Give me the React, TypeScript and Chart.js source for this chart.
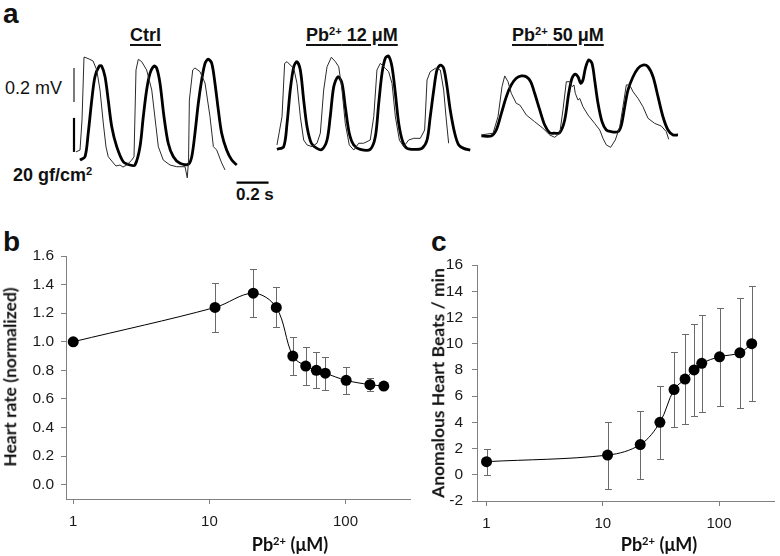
import React, { useEffect, useRef } from "react";
import { Chart, registerables } from "chart.js";

Chart.register(...registerables);

// ---------- Panel b / c data ----------
const leadDose = [1, 11, 21, 31, 41, 51, 61, 71, 101, 151, 191]; // Pb2+ (µM)
const heartRate = [1.0, 1.24, 1.34, 1.24, 0.9, 0.83, 0.8, 0.78, 0.73, 0.7, 0.69];
const heartRateErr = [0, 0.17, 0.17, 0.14, 0.135, 0.13, 0.125, 0.115, 0.095, 0.047, 0];
const anomalousBeats = [1.0, 1.5, 2.3, 4.0, 6.5, 7.3, 8.0, 8.5, 9.0, 9.3, 10.0];
const anomalousErr = [1.0, 2.55, 2.6, 2.8, 2.87, 3.4, 3.5, 3.7, 3.75, 4.2, 4.4];
const doseTicks = [1, 10, 100];
const heartTicks = [0, 0.2, 0.4, 0.6, 0.8, 1.0, 1.2, 1.4, 1.6];
const beatTicks = [-2, 0, 2, 4, 6, 8, 10, 12, 14, 16];

// ---------- Panel a traces (time in s, ECG in mV, force in gf/cm²) ----------
const ctrlEcgT = [0.0375,0.0625,0.075,0.0875,0.106,0.125,0.144,0.167,0.1875,0.208,0.225,0.239,0.271,0.2875,0.3125,0.331,0.354,0.386,0.4,0.4125,0.427,0.448,0.479,0.511,0.5375,0.552,0.583,0.625,0.667,0.719,0.733,0.741,0.746,0.767,0.781,0.8125,0.844,0.875,0.896,0.917,0.948,0.969];
const ctrlEcgV = [0.224,0.235,0.412,0.782,0.776,0.768,0.759,0.706,0.588,0.394,0.253,0.196,0.159,0.141,0.147,0.135,0.147,0.176,0.196,0.706,0.769,0.755,0.706,0.588,0.372,0.255,0.176,0.147,0.137,0.137,0.071,0.176,0.529,0.706,0.718,0.696,0.629,0.431,0.255,0.235,0.159,0.118];
const ctrlForceT = [0.0625,0.094,0.114,0.136,0.156,0.183,0.198,0.219,0.239,0.261,0.292,0.333,0.375,0.406,0.4375,0.458,0.479,0.5,0.525,0.542,0.5625,0.5875,0.614,0.646,0.6875,0.739,0.761,0.781,0.802,0.823,0.844,0.864,0.886,0.906,0.927,0.948,0.979,1.011,1.042];
const ctrlForce = [17.6,19.6,33.5,52.9,66.6,72.9,72.9,66.6,52.9,37.2,25.5,16.6,14.7,14.7,25.5,43.1,58.8,68.6,72.9,71.6,62.8,43.1,27.5,19.6,15.7,15.1,19.6,33.4,51.0,64.7,74.5,76.9,74.5,62.8,47.1,33.4,23.5,17.6,14.7];

const pb12EcgT = [0.031,0.0625,0.079,0.094,0.114,0.136,0.156,0.177,0.198,0.219,0.25,0.281,0.302,0.323,0.344,0.371,0.396,0.417,0.4375,0.458,0.483,0.511,0.542,0.573,0.614,0.636,0.656,0.677,0.708,0.729,0.75,0.771,0.796,0.823,0.854,0.886,0.927,0.954,0.969,0.989,1.021,1.052,1.073,1.0875,1.104];
const pb12EcgV = [0.265,0.431,0.745,0.755,0.735,0.716,0.628,0.431,0.294,0.265,0.255,0.275,0.334,0.588,0.725,0.781,0.755,0.725,0.588,0.392,0.265,0.235,0.275,0.275,0.294,0.431,0.706,0.745,0.716,0.696,0.628,0.431,0.294,0.255,0.294,0.304,0.304,0.353,0.647,0.696,0.716,0.706,0.588,0.431,0.275];
const pb12ForceT = [0.031,0.073,0.094,0.114,0.136,0.156,0.177,0.198,0.219,0.246,0.281,0.3125,0.344,0.364,0.386,0.4125,0.4375,0.458,0.483,0.511,0.552,0.614,0.646,0.667,0.6875,0.708,0.729,0.75,0.771,0.792,0.817,0.844,0.896,0.9375,0.969,0.989,1.011,1.031,1.052,1.073,1.094,1.114,1.142,1.167,1.198,1.239];
const pb12Force = [23.9,25.5,39.2,58.8,72.5,75.5,70.6,52.9,37.2,27.5,24.5,23.9,29.4,43.1,60.8,66.6,62.8,49.0,33.4,26.5,23.9,23.9,31.4,51.0,68.6,77.5,78.8,72.5,56.9,39.2,28.4,24.5,23.9,24.5,29.4,43.1,58.8,70.6,73.5,71.6,60.8,47.1,33.4,26.5,24.5,23.5];

const pb50EcgT = [0.021,0.094,0.125,0.15,0.167,0.1875,0.208,0.239,0.261,0.275,0.302,0.354,0.406,0.448,0.479,0.511,0.531,0.552,0.573,0.589,0.6,0.608,0.625,0.636,0.656,0.6875,0.729,0.761,0.781,0.802,0.829,0.858,0.886,0.906,0.927,0.948,0.969,1.0,1.031,1.0625,1.104,1.146,1.177,1.192];
const pb50EcgV = [0.324,0.334,0.431,0.608,0.671,0.637,0.569,0.51,0.5,0.481,0.441,0.402,0.363,0.324,0.31,0.334,0.471,0.637,0.637,0.608,0.618,0.569,0.529,0.539,0.49,0.441,0.392,0.353,0.304,0.265,0.251,0.294,0.372,0.49,0.618,0.618,0.578,0.539,0.49,0.422,0.392,0.376,0.343,0.298];
const pb50ForceT = [0.021,0.083,0.114,0.146,0.177,0.208,0.239,0.271,0.302,0.329,0.354,0.386,0.417,0.448,0.479,0.511,0.542,0.567,0.5875,0.608,0.625,0.642,0.656,0.671,0.692,0.7125,0.729,0.75,0.775,0.802,0.833,0.875,0.896,0.917,0.9375,0.969,1.0,1.031,1.0625,1.094,1.125,1.156,1.1875,1.219,1.25];
const pb50Force = [31.8,31.8,35.3,45.1,54.9,61.8,65.7,67.1,66.6,63.7,56.9,47.1,38.2,33.7,33.4,33.7,41.2,56.9,65.7,68.2,66.6,62.8,64.7,71.6,76.5,74.5,64.7,51.0,40.2,35.3,34.3,34.3,38.2,49.0,58.8,66.6,71.6,73.5,72.5,66.6,54.9,43.1,35.3,32.4,32.4];

// scale bars (0.2 mV, 20 gf/cm², 0.2 s)
const mvBarT = [0.025, 0.025];
const mvBarV = [0.518, 0.718];
const forceBarT = [0.025, 0.025];
const forceBarV = [22.4, 42.4];
const timeBarT = [1.041, 1.241];
const timeBarV = [0.043, 0.043];

const LIB = '"Liberation Sans", Arial, sans-serif';
const LATO = 'Lato, "Liberation Sans", sans-serif';

const zip = (xs: number[], ys: number[]) =>
  xs.slice(0, Math.min(xs.length, ys.length)).map((x, i) => ({ x, y: ys[i] }));

const lineDs = (data: any[], yAxisID: string, width: number, color: string, tension: number) => ({
  data,
  yAxisID,
  borderColor: color,
  borderWidth: width,
  pointRadius: 0,
  tension,
  fill: false,
  clip: false,
  borderCapStyle: "butt",
});

function traceConfig(ecgT: number[], ecgV: number[], fT: number[], fV: number[], xMax: number, withBars: boolean): any {
  const datasets: any[] = [
    lineDs(zip(ecgT, ecgV), "yV", 1, "#2a2a2a", 0),
    lineDs(zip(fT, fV), "yF", 2.8, "#000", 0.3),
  ];
  if (withBars) {
    datasets.push(lineDs(zip(mvBarT, mvBarV), "yV", 1.2, "#222", 0));
    datasets.push(lineDs(zip(forceBarT, forceBarV), "yF", 2.2, "#000", 0));
    datasets.push(lineDs(zip(timeBarT, timeBarV), "yV", 2.2, "#000", 0));
  }
  return {
    type: "line",
    data: { datasets },
    options: {
      responsive: false,
      animation: false,
      layout: { padding: 0 },
      plugins: { legend: { display: false }, tooltip: { enabled: false } },
      scales: {
        x: { type: "linear", display: false, min: 0, max: xMax },
        yV: { type: "linear", display: false, min: 0, max: 0.8 },
        yF: { type: "linear", display: false, min: 0, max: 80 },
      },
    },
  };
}

const errorBarPlugin = {
  id: "errbars",
  beforeDatasetsDraw(chart: any, _args: any, opts: any) {
    const { ctx } = chart;
    const xs = chart.scales.x;
    const ys = chart.scales.y;
    const errs: number[] = opts.errors || [];
    const pts = chart.data.datasets[0].data;
    ctx.save();
    ctx.strokeStyle = opts.color || "#666";
    ctx.lineWidth = 1;
    pts.forEach((p: any, i: number) => {
      const e = errs[i];
      if (!e) return;
      const px = Math.round(xs.getPixelForValue(p.x)) + 0.5;
      const top = Math.round(ys.getPixelForValue(p.y + e)) + 0.5;
      const bot = Math.round(ys.getPixelForValue(p.y - e)) + 0.5;
      ctx.beginPath();
      ctx.moveTo(px, top);
      ctx.lineTo(px, bot);
      ctx.moveTo(px - 3.5, top);
      ctx.lineTo(px + 3.5, top);
      ctx.moveTo(px - 3.5, bot);
      ctx.lineTo(px + 3.5, bot);
      ctx.stroke();
    });
    ctx.restore();
  },
};

function doseConfig(values: number[], errs: number[], yMin: number, yMax: number, yTicks: number[], fmt: (v: number) => string, geom: any): any {
  const axisColor = "#808080";
  return {
    type: "line",
    data: {
      datasets: [
        {
          data: zip(leadDose, values),
          borderColor: "#000",
          borderWidth: 1,
          pointRadius: 5.5,
          pointBackgroundColor: "#000",
          pointBorderColor: "#000",
          pointBorderWidth: 0,
          tension: 0.35,
          clip: false,
        },
      ],
    },
    plugins: [errorBarPlugin],
    options: {
      responsive: false,
      animation: false,
      layout: { padding: geom.padding },
      plugins: {
        legend: { display: false },
        tooltip: { enabled: false },
        errbars: { errors: errs, color: "#6a6a6a" },
      },
      scales: {
        x: {
          type: "logarithmic",
          min: geom.xMin,
          max: geom.xMax,
          afterBuildTicks: (s: any) => {
            s.ticks = doseTicks.map((v) => ({ value: v }));
          },
          afterFit: (s: any) => {
            s.height = geom.xHeight;
            s.paddingLeft = 0;
            s.paddingRight = 0;
          },
          ticks: {
            callback: (v: any) => String(v),
            font: { family: LIB, size: 15 },
            color: "#1a1a1a",
            padding: 9,
            autoSkip: false,
            maxRotation: 0,
          },
          grid: { drawOnChartArea: false, tickLength: 5, color: axisColor },
          border: { color: axisColor, width: 1 },
        },
        y: {
          type: "linear",
          min: yMin,
          max: yMax,
          afterBuildTicks: (s: any) => {
            s.ticks = yTicks.map((v) => ({ value: v }));
          },
          afterFit: (s: any) => {
            s.width = geom.yWidth;
            s.paddingTop = 0;
            s.paddingBottom = 0;
          },
          ticks: {
            callback: (v: any) => fmt(Number(v)),
            font: { family: LIB, size: 15.5 },
            color: "#1a1a1a",
            padding: geom.yPad,
            autoSkip: false,
          },
          grid: { drawOnChartArea: false, tickLength: 5, color: axisColor },
          border: { color: axisColor, width: 1 },
        },
      },
    },
  };
}

const Sup = ({ children }: any) => (
  <sup style={{ fontSize: "0.62em", verticalAlign: "0.55em", lineHeight: 0 }}>{children}</sup>
);

const Txt = ({ left, top, font, children, style }: any) => (
  <div
    style={{
      position: "absolute",
      left,
      top,
      font,
      lineHeight: 1,
      whiteSpace: "nowrap",
      color: "#111",
      ...style,
    }}
  >
    {children}
  </div>
);

const underline = {
  textDecoration: "underline",
  textDecorationThickness: "2px",
  textUnderlineOffset: "3px",
};

export default function App() {
  const ctrlRef = useRef<HTMLCanvasElement>(null);
  const p12Ref = useRef<HTMLCanvasElement>(null);
  const p50Ref = useRef<HTMLCanvasElement>(null);
  const bRef = useRef<HTMLCanvasElement>(null);
  const cRef = useRef<HTMLCanvasElement>(null);

  useEffect(() => {
    const charts = [
      new Chart(ctrlRef.current as any, traceConfig(ctrlEcgT, ctrlEcgV, ctrlForceT, ctrlForce, 202 / 160, true)),
      new Chart(p12Ref.current as any, traceConfig(pb12EcgT, pb12EcgV, pb12ForceT, pb12Force, 204 / 160, false)),
      new Chart(p50Ref.current as any, traceConfig(pb50EcgT, pb50EcgV, pb50ForceT, pb50Force, 208 / 160, false)),
      new Chart(
        bRef.current as any,
        doseConfig(heartRate, heartRateErr, -0.1, 1.6, heartTicks, (v) => v.toFixed(1), {
          padding: { top: 6, right: 3, left: 0, bottom: 0 },
          xMin: 0.885,
          xMax: 300,
          xHeight: 57,
          yWidth: 66,
          yPad: 7,
        })
      ),
      new Chart(
        cRef.current as any,
        doseConfig(anomalousBeats, anomalousErr, -2, 16, beatTicks, (v) => String(Math.round(v)), {
          padding: { top: 15, right: 0, left: 0, bottom: 0 },
          xMin: 0.828,
          xMax: 300,
          xHeight: 55,
          yWidth: 77,
          yPad: 9,
        })
      ),
    ];
    return () => charts.forEach((c) => c.destroy());
  }, []);

  const boldA = `bold 18px ${LIB}`;
  return (
    <div style={{ position: "absolute", left: 0, top: 0, width: 780, height: 556, background: "#fff", overflow: "hidden" }}>
      {/* panel letters */}
      <Txt left={3} top={0} font={`bold 28px ${LIB}`}>a</Txt>
      <Txt left={3} top={228} font={`bold 28px ${LIB}`}>b</Txt>
      <Txt left={431} top={228} font={`bold 28px ${LIB}`}>c</Txt>

      {/* panel a titles */}
      <Txt left={130} top={26} font={boldA} style={underline}>Ctrl</Txt>
      <Txt left={306} top={26} font={boldA} style={underline}>
        Pb<Sup>2+</Sup> 12 μM
      </Txt>
      <Txt left={512} top={26} font={boldA} style={underline}>
        Pb<Sup>2+</Sup> 50 μM
      </Txt>

      {/* scale bar labels */}
      <Txt left={5} top={79} font={`18px ${LIB}`}>0.2 mV</Txt>
      <Txt left={13} top={166} font={boldA}>
        20 gf/cm<Sup>2</Sup>
      </Txt>
      <Txt left={236} top={186} font={`bold 17px ${LIB}`}>0.2 s</Txt>

      <canvas ref={ctrlRef} width={202} height={136} style={{ position: "absolute", left: 70, top: 54 }} />
      <canvas ref={p12Ref} width={204} height={136} style={{ position: "absolute", left: 272, top: 54 }} />
      <canvas ref={p50Ref} width={208} height={136} style={{ position: "absolute", left: 478, top: 54 }} />

      <canvas ref={bRef} width={416} height={306} style={{ position: "absolute", left: 0, top: 250 }} />
      <canvas ref={cRef} width={380} height={306} style={{ position: "absolute", left: 400, top: 250 }} />

      {/* axis titles */}
      <Txt left={10} top={377} font={`bold 17.5px ${LATO}`} style={{ transform: "translate(-50%,-50%) rotate(-90deg)" }}>
        Heart rate (normalized)
      </Txt>
      <Txt left={438} top={383} font={`bold 17.5px ${LATO}`} style={{ transform: "translate(-50%,-50%) rotate(-90deg)" }}>
        Anomalous Heart Beats / min
      </Txt>
      <Txt left={290} top={535} font={`bold 18px ${LATO}`} style={{ transform: "translateX(-50%)" }}>
        Pb<Sup>2+</Sup> (μM)
      </Txt>
      <Txt left={659} top={535} font={`bold 18px ${LATO}`} style={{ transform: "translateX(-50%)" }}>
        Pb<Sup>2+</Sup> (μM)
      </Txt>
    </div>
  );
}
